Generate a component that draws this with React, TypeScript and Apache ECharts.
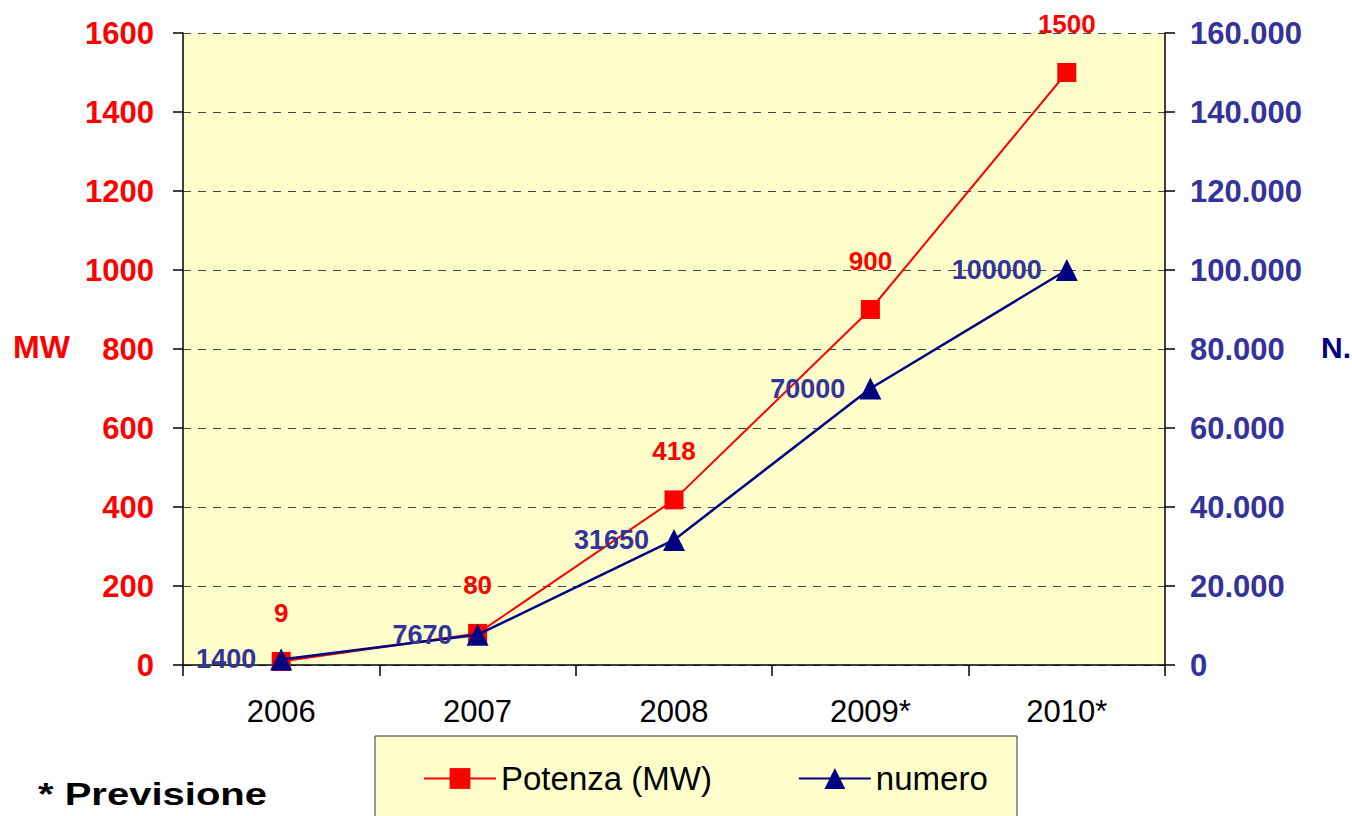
import React, { useEffect, useRef } from "react";
import * as echarts from "echarts";

const categories = ["2006", "2007", "2008", "2009*", "2010*"];
const potenza = [9, 80, 418, 900, 1500];
const numero = [1400, 7670, 31650, 70000, 100000];

const RED = "#FF0000";
const NAVY = "#000080";
const BLUE_TXT = "#333399";
const FONT = "Arial, 'Liberation Sans', sans-serif";

function fmtThousands(v: number): string {
  if (v === 0) return "0";
  return String(v).replace(/\B(?=(\d{3})+(?!\d))/g, ".");
}

export default function App() {
  const ref = useRef<HTMLDivElement>(null);
  useEffect(() => {
    if (!ref.current) return;
    const chart = echarts.init(ref.current, null, { renderer: "svg" });
    chart.setOption({
      animation: false,
      textStyle: { fontFamily: FONT },
      grid: {
        left: 183,
        right: 187,
        top: 33,
        bottom: 151,
        show: true,
        backgroundColor: "#FFFFCC",
        borderWidth: 0,
      },
      legend: {
        left: 418,
        top: 757,
        itemWidth: 72,
        itemHeight: 26,
        itemGap: 86,
        textStyle: { fontSize: 33, color: "#000", fontFamily: FONT },
        data: ["Potenza (MW)", "numero"],
      },
      graphic: [
        {
          type: "rect",
          z: -1,
          shape: { x: 375, y: 736, width: 642, height: 100 },
          style: { fill: "#FFFFCC", stroke: "#333", lineWidth: 1 },
        },
        {
          type: "text",
          x: 38,
          y: 794,
          scaleX: 1.25,
          style: {
            text: "* Previsione",
            font: "bold 32px " + FONT,
            fill: "#000",
            textAlign: "left",
            textVerticalAlign: "middle",
          },
        },
        {
          type: "text",
          x: 13,
          y: 347,
          style: {
            text: "MW",
            font: "bold 32px " + FONT,
            fill: RED,
            textAlign: "left",
            textVerticalAlign: "middle",
          },
        },
        {
          type: "text",
          x: 1321,
          y: 347,
          style: {
            text: "N.",
            font: "bold 30px " + FONT,
            fill: NAVY,
            textAlign: "left",
            textVerticalAlign: "middle",
          },
        },
      ],
      xAxis: {
        type: "category",
        data: categories,
        boundaryGap: true,
        axisLine: { show: true, lineStyle: { color: "#000", width: 1.5 } },
        axisTick: { show: true, length: 11, lineStyle: { color: "#000", width: 1.5 } },
        axisLabel: { color: "#000", fontSize: 31, margin: 31 },
        splitLine: { show: false },
      },
      yAxis: [
        {
          type: "value",
          min: 0,
          max: 1600,
          interval: 200,
          position: "left",
          axisLine: { show: true, lineStyle: { color: "#000", width: 1.5 } },
          axisTick: { show: true, length: 10, lineStyle: { color: "#000", width: 1.5 } },
          axisLabel: {
            color: RED,
            fontSize: 31,
            fontWeight: "bold",
            margin: 29,
            formatter: (v: number) => String(v),
          },
          splitLine: { show: true, lineStyle: { color: "#444", type: [8, 7], width: 1 } },
        },
        {
          type: "value",
          min: 0,
          max: 160000,
          interval: 20000,
          position: "right",
          axisLine: { show: true, lineStyle: { color: "#000", width: 1.5 } },
          axisTick: { show: true, length: 10, lineStyle: { color: "#000", width: 1.5 } },
          axisLabel: {
            color: BLUE_TXT,
            fontSize: 31,
            fontWeight: "bold",
            margin: 25,
            formatter: (v: number) => fmtThousands(v),
          },
          splitLine: { show: false },
        },
      ],
      series: [
        {
          name: "Potenza (MW)",
          type: "line",
          yAxisIndex: 0,
          data: potenza,
          symbol: "rect",
          symbolSize: 19,
          itemStyle: { color: RED },
          lineStyle: { color: RED, width: 2 },
          label: {
            show: true,
            position: "top",
            distance: 26,
            color: RED,
            fontSize: 26,
            fontWeight: "bold",
          },
          z: 2,
        },
        {
          name: "numero",
          type: "line",
          yAxisIndex: 1,
          data: numero,
          symbol: "triangle",
          symbolSize: 22,
          itemStyle: { color: NAVY },
          lineStyle: { color: NAVY, width: 2.5 },
          label: {
            show: true,
            position: "left",
            distance: 14,
            color: BLUE_TXT,
            fontSize: 27,
            fontWeight: "bold",
          },
          z: 3,
        },
      ],
    });
    return () => chart.dispose();
  }, []);
  return <div ref={ref} style={{ width: 1352, height: 816, position: "absolute", left: 0, top: 0 }} />;
}
